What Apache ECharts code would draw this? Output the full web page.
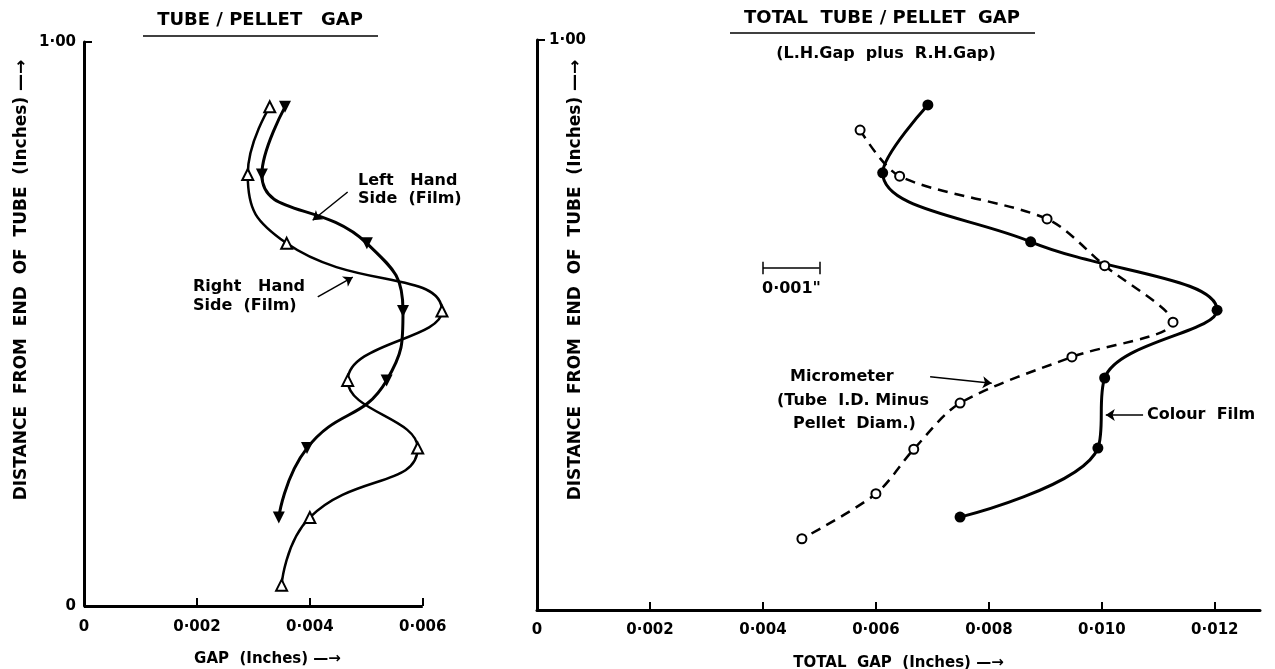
<!DOCTYPE html>
<html>
<head>
<meta charset="utf-8">
<script src="https://cdn.jsdelivr.net/npm/echarts@6/dist/echarts.min.js"></script>
<style>
  html, body { margin: 0; padding: 0; background: #fff; }
  #chart { width: 1275px; height: 669px; }
</style>
</head>
<body>
<div id="chart"></div>
<script>
// left panel - gap on each side of the pellet (film readings)
const depthL = [0.885, 0.765, 0.643, 0.523, 0.400, 0.280, 0.157, 0.037];
const rhsGap = [0.00329, 0.00290, 0.00359, 0.00634, 0.00467, 0.00591, 0.00400, 0.00350];
const lhsGap = [0.00356, 0.00315, 0.00501, 0.00565, 0.00536, 0.00395, 0.00345];

// right panel - total gap, colour film vs micrometer
const depthFilm = [0.886, 0.767, 0.646, 0.526, 0.407, 0.284, 0.163];
const filmGap = [0.00692, 0.00612, 0.00874, 0.01204, 0.01005, 0.00993, 0.00749];
const depthMic = [0.842, 0.761, 0.686, 0.604, 0.505, 0.444, 0.363, 0.282, 0.204, 0.125];
const micGap = [0.00572, 0.00642, 0.00903, 0.01005, 0.01126, 0.00947, 0.00749, 0.00667, 0.00600, 0.00469];

const gapTicksL = [0, 0.002, 0.004, 0.006];
const gapTicksR = [0, 0.002, 0.004, 0.006, 0.008, 0.010, 0.012];

const FONT = 'DejaVu Sans';
const Y_NAME = 'DISTANCE  FROM  END  OF  TUBE  (Inches) \u2014\u2192';

function gapLabel(v) {
  if (Math.abs(v) < 1e-9) return '0';
  return v.toFixed(3).replace('.', '\u00b7');
}

function pairs(xs, ys) {
  return xs.map((x, i) => [x, ys[i]]);
}

// arrow pointing at a curve, given in data units
function arrow(from, to) {
  return [{coord: from, symbol: 'none'}, {coord: to, symbol: 'arrow'}];
}
function plainLine(from, to, width) {
  return [{coord: from, symbol: 'none', lineStyle: {width: width || 1.5}}, {coord: to, symbol: 'none'}];
}

const axisTxt = {color: '#000', fontFamily: FONT, fontWeight: 'bold', fontSize: 15};
const nameTxt = {color: '#000', fontFamily: FONT, fontWeight: 'bold', fontSize: 15};
const tickStyle = {color: '#000', width: 2};

const markStyle = {
  silent: true,
  symbolSize: 9,
  label: {show: false},
  emphasis: {disabled: true},
  lineStyle: {color: '#000', width: 1.5, type: 'solid'}
};

function txt(x, y, s, size, extra) {
  return {type: 'text', style: Object.assign({
    x: x, y: y, text: s, verticalAlign: 'middle',
    font: 'bold ' + size + 'px ' + FONT, fill: '#000'
  }, extra || {})};
}

let chart = echarts.init(document.getElementById('chart'));

let option = {
  animation: false,
  backgroundColor: '#fff',
  textStyle: {fontFamily: FONT, color: '#000'},
  grid: [
    // left grid runs a bit past 0.006 so the last triangle is not cut
    {left: 84, top: 42, width: 367, height: 564, outerBoundsMode: 'none'},
    {left: 537, top: 40, width: 723, height: 570, outerBoundsMode: 'none'}
  ],
  xAxis: [
    {
      gridIndex: 0, type: 'value', min: 0, max: 0.0065,
      axisLine: {show: false},
      axisTick: {show: true, inside: true, length: 8, customValues: gapTicksL, lineStyle: tickStyle},
      splitLine: {show: false},
      axisLabel: Object.assign({margin: 14, customValues: gapTicksL, formatter: gapLabel}, axisTxt),
      name: 'GAP  (Inches) \u2014\u2192', nameLocation: 'middle', nameGap: 46,
      nameMoveOverlap: false, nameTextStyle: nameTxt
    },
    {
      gridIndex: 1, type: 'value', min: 0, max: 0.0128,
      axisLine: {show: true, onZero: false, lineStyle: {color: '#000', width: 3}},
      axisTick: {show: true, inside: true, length: 8, customValues: gapTicksR, lineStyle: tickStyle},
      splitLine: {show: false},
      axisLabel: Object.assign({margin: 13, customValues: gapTicksR, formatter: gapLabel}, axisTxt),
      name: 'TOTAL  GAP  (Inches) \u2014\u2192', nameLocation: 'middle', nameGap: 46,
      nameMoveOverlap: false, nameTextStyle: nameTxt
    }
  ],
  yAxis: [
    {
      gridIndex: 0, type: 'value', min: 0, max: 1, interval: 1,
      axisLine: {show: true, onZero: false, lineStyle: {color: '#000', width: 3}},
      axisTick: {show: true, inside: true, length: 8, lineStyle: tickStyle},
      splitLine: {show: false},
      axisLabel: Object.assign({margin: 8, formatter: v => v === 1 ? '1\u00b700' : '0'}, axisTxt)
    },
    {
      gridIndex: 1, type: 'value', min: 0, max: 1, interval: 1,
      axisLine: {show: true, onZero: false, lineStyle: {color: '#000', width: 3}},
      axisTick: {show: true, inside: true, length: 8, lineStyle: tickStyle},
      splitLine: {show: false},
      axisLabel: Object.assign({inside: true, margin: 12, formatter: v => v === 1 ? '1\u00b700' : ''}, axisTxt)
    }
  ],
  series: [
    {
      name: 'Right Hand Side (Film)', type: 'line', xAxisIndex: 0, yAxisIndex: 0,
      data: pairs(rhsGap, depthL), smooth: 0.5,
      symbol: 'triangle', symbolSize: 11,
      itemStyle: {color: '#fff', borderColor: '#000', borderWidth: 2},
      lineStyle: {color: '#000', width: 2.5},
      markLine: Object.assign({data: [
        arrow([0.00414, 0.548], [0.00476, 0.583]),
        // x axis line only reaches 0.006
        plainLine([0, 0], [0.006, 0], 3)
      ]}, markStyle)
    },
    {
      name: 'Left Hand Side (Film)', type: 'line', xAxisIndex: 0, yAxisIndex: 0,
      data: pairs(lhsGap, depthL), smooth: 0.5,
      symbol: 'triangle', symbolRotate: 180, symbolSize: 12,
      itemStyle: {color: '#000'},
      lineStyle: {color: '#000', width: 3},
      markLine: Object.assign({data: [arrow([0.00467, 0.734], [0.00405, 0.684])]}, markStyle)
    },
    {
      name: 'Colour Film', type: 'line', xAxisIndex: 1, yAxisIndex: 1,
      data: pairs(filmGap, depthFilm), smooth: 0.4,
      symbol: 'circle', symbolSize: 11,
      itemStyle: {color: '#000'},
      lineStyle: {color: '#000', width: 3},
      markLine: Object.assign({data: [
        arrow([0.01073, 0.342], [0.01007, 0.342]),
        // 0.001" scale bar
        plainLine([0.004, 0.600], [0.005, 0.600]),
        plainLine([0.004, 0.589], [0.004, 0.611]),
        plainLine([0.005, 0.589], [0.005, 0.611])
      ]}, markStyle)
    },
    {
      name: 'Micrometer', type: 'line', xAxisIndex: 1, yAxisIndex: 1,
      data: pairs(micGap, depthMic), smooth: 0.3,
      symbol: 'circle', symbolSize: 9,
      itemStyle: {color: '#fff', borderColor: '#000', borderWidth: 2},
      lineStyle: {color: '#000', width: 2.5, type: [10, 7]},
      markLine: Object.assign({data: [arrow([0.00696, 0.409], [0.00805, 0.398])]}, markStyle)
    }
  ],
  graphic: [
    txt(260, 20, 'TUBE / PELLET   GAP', 18, {align: 'center'}),
    {type: 'line', shape: {x1: 143, y1: 36, x2: 378, y2: 36}, style: {stroke: '#000', lineWidth: 1.5}},
    txt(882, 18, 'TOTAL  TUBE / PELLET  GAP', 18, {align: 'center'}),
    {type: 'line', shape: {x1: 730, y1: 33, x2: 1035, y2: 33}, style: {stroke: '#000', lineWidth: 1.5}},
    txt(886, 54, '(L.H.Gap  plus  R.H.Gap)', 16, {align: 'center'}),

    // vertical axis titles
    {type: 'text', x: 22, y: 280, rotation: Math.PI / 2,
      style: {x: 0, y: 0, text: Y_NAME, align: 'center', verticalAlign: 'middle', font: 'bold 17px ' + FONT, fill: '#000'}},
    {type: 'text', x: 576, y: 280, rotation: Math.PI / 2,
      style: {x: 0, y: 0, text: Y_NAME, align: 'center', verticalAlign: 'middle', font: 'bold 17px ' + FONT, fill: '#000'}},

    txt(358, 181, 'Left   Hand', 16),
    txt(358, 199, 'Side  (Film)', 16),
    txt(193, 287, 'Right   Hand', 16),
    txt(193, 306, 'Side  (Film)', 16),

    txt(790, 377, 'Micrometer', 16),
    txt(777, 401, '(Tube  I.D. Minus', 16),
    txt(793, 424, 'Pellet  Diam.)', 16),
    txt(1147, 415, 'Colour  Film', 16),
    txt(762, 289, '0\u00b7001"', 16)
  ]
};

chart.setOption(option);
</script>
</body>
</html>
